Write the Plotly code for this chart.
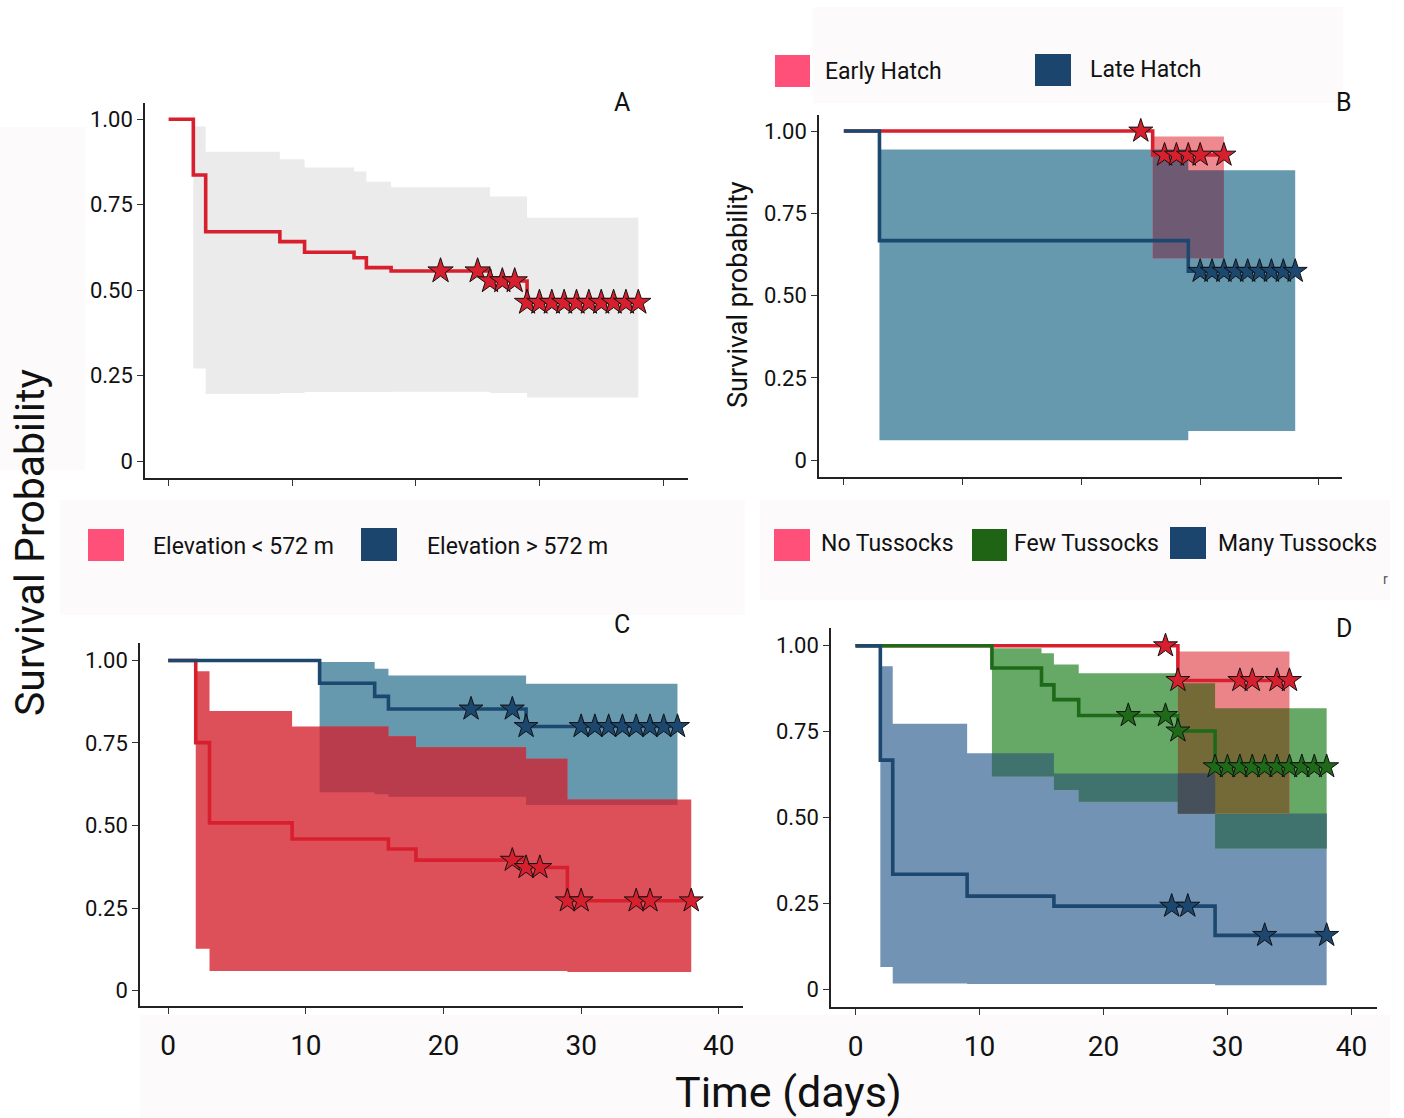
import plotly.graph_objects as go

W, H = 1404, 1118

# ---------------- DATA ----------------
# Panel A (all chicks)
A_time = [0, 2, 3, 9, 11, 15, 16, 18, 26, 29, 38]
A_surv = [1.0, 0.837, 0.671, 0.642, 0.611, 0.595, 0.566, 0.556, 0.527, 0.464, 0.464]
A_cens = [22, 25, 26, 27, 28, 29, 30, 31, 32, 33, 34, 35, 36, 37, 38]
A_band_t = [2, 3, 9, 11, 15, 16, 18, 26, 29, 38]
A_band_lo = [0.271, 0.196, 0.199, 0.202, 0.202, 0.202, 0.203, 0.199, 0.186]
A_band_hi = [0.979, 0.905, 0.883, 0.859, 0.847, 0.817, 0.801, 0.774, 0.712]

# Panel B (hatch timing)
B_early_time = [0, 26, 32]
B_early_surv = [1.0, 0.927, 0.927]
B_early_cens = [25, 27, 28, 29, 30, 32]
B_early_band_t = [26, 32]
B_early_band_lo = [0.613]
B_early_band_hi = [0.983]

B_late_time = [0, 3, 29, 38]
B_late_surv = [1.0, 0.667, 0.574, 0.574]
B_late_cens = [30, 31, 32, 33, 34, 35, 36, 37, 38]
B_late_band_t = [3, 29, 38]
B_late_band_lo = [0.061, 0.089]
B_late_band_hi = [0.944, 0.881]

# Panel C (elevation)
C_low_time = [0, 2, 3, 9, 16, 18, 26, 29, 38]
C_low_surv = [1.0, 0.751, 0.508, 0.459, 0.429, 0.395, 0.373, 0.272, 0.272]
C_low_cens = [25, 26, 27, 29, 30, 34, 35, 38]
C_low_band_t = [2, 3, 9, 16, 18, 26, 29, 38]
C_low_band_lo = [0.127, 0.059, 0.059, 0.059, 0.059, 0.059, 0.056]
C_low_band_hi = [0.967, 0.847, 0.800, 0.770, 0.737, 0.702, 0.579]

C_high_time = [0, 11, 15, 16, 26, 37]
C_high_surv = [1.0, 0.931, 0.891, 0.853, 0.800, 0.800]
C_high_cens = [22, 25, 26, 30, 31, 32, 33, 34, 35, 36, 37]
C_high_band_t = [11, 15, 16, 26, 37]
C_high_band_lo = [0.601, 0.595, 0.587, 0.562]
C_high_band_hi = [0.995, 0.975, 0.954, 0.929]

# Panel D (tussocks)
D_no_time = [0, 26, 35]
D_no_surv = [1.0, 0.899, 0.899]
D_no_cens = [25, 26, 31, 32, 34, 35]
D_no_band_t = [26, 35]
D_no_band_lo = [0.512]
D_no_band_hi = [0.983]

D_few_time = [0, 11, 15, 16, 18, 26, 29, 38]
D_few_surv = [1.0, 0.935, 0.886, 0.843, 0.797, 0.752, 0.648, 0.648]
D_few_cens = [22, 25, 26, 29, 30, 31, 32, 33, 34, 35, 36, 37, 38]
D_few_band_t = [11, 15, 16, 18, 26, 29, 38]
D_few_band_lo = [0.619, 0.619, 0.580, 0.546, 0.512, 0.410]
D_few_band_hi = [0.993, 0.978, 0.945, 0.920, 0.891, 0.818]

D_many_time = [0, 2, 3, 9, 16, 29, 38]
D_many_surv = [1.0, 0.667, 0.335, 0.271, 0.242, 0.157, 0.157]
D_many_cens = [25.5, 26.8, 33, 38]
D_many_band_t = [2, 3, 9, 16, 29, 38]
D_many_band_lo = [0.065, 0.017, 0.015, 0.015, 0.012]
D_many_band_hi = [0.940, 0.773, 0.687, 0.628, 0.512]

y_tickvals = [0, 0.25, 0.5, 0.75, 1.0]
y_ticktext = ["0", "0.25", "0.50", "0.75", "1.00"]
x_tickvals = [0, 10, 20, 30, 40]
x_ticktext = ["0", "10", "20", "30", "40"]

# ---------------- STYLE ----------------
RED_LINE = "#D81F2E"
NAVY_LINE = "#1C4870"
GREEN_LINE = "#1E6A19"
LEG_PINK = "#FF507A"
LEG_NAVY = "#1C456E"
LEG_GREEN = "#1F6414"
FONT = "Roboto"


def fx(x):
    return x / W


def fy(y):
    return 1 - y / H


panels = {
    "A": dict(ax="", box=(145, 688, 103, 478), xr=[-1.91, 42.02], yr=[-0.0497, 1.0477], xlab=False),
    "B": dict(ax="2", box=(819, 1342, 115, 477), xr=[-2.09, 41.94], yr=[-0.0508, 1.0486], xlab=False),
    "C": dict(ax="3", box=(140, 743, 643, 1006), xr=[-2.05, 41.76], yr=[-0.0467, 1.0528], xlab=True),
    "D": dict(ax="4", box=(831, 1377, 628, 1007), xr=[-1.98, 42.06], yr=[-0.0516, 1.0516], xlab=True),
}

fig = go.Figure()


def segs(t, lo, hi):
    return [(t[i], t[i + 1], lo[i], hi[i]) for i in range(len(lo))]


def val_at(sg, a, b):
    for s0, s1, lo, hi in sg:
        if s0 <= a and b <= s1:
            return lo, hi
    return None


def intersect(*bands):
    pts = sorted(set(p for b in bands for s in b for p in (s[0], s[1])))
    runs, cur = [], []
    for a, b in zip(pts[:-1], pts[1:]):
        vals = [val_at(bd, a, b) for bd in bands]
        if any(v is None for v in vals):
            if cur:
                runs.append(cur)
                cur = []
            continue
        lo = max(v[0] for v in vals)
        hi = min(v[1] for v in vals)
        if hi > lo:
            cur.append((a, b, lo, hi))
        elif cur:
            runs.append(cur)
            cur = []
    if cur:
        runs.append(cur)
    return runs


def poly(runs):
    xs, ys = [], []
    for run in runs:
        for a, b, lo, hi in run:
            xs += [a, b]
            ys += [hi, hi]
        for a, b, lo, hi in reversed(run):
            xs += [b, a]
            ys += [lo, lo]
        xs.append(None)
        ys.append(None)
    return xs, ys


def add_fill(runs, color, ax):
    xs, ys = poly(runs)
    fig.add_trace(go.Scatter(x=xs, y=ys, fill="toself", fillcolor=color, mode="none",
                             line=dict(width=0), hoverinfo="skip", showlegend=False,
                             xaxis="x" + ax, yaxis="y" + ax))


def add_line(t, s, color, ax, width=3.6):
    fig.add_trace(go.Scatter(x=t, y=s, mode="lines", line=dict(color=color, width=width, shape="hv"),
                             showlegend=False, xaxis="x" + ax, yaxis="y" + ax))


def surv_at(t, s, c):
    v = s[0]
    for ti, si in zip(t, s):
        if ti <= c:
            v = si
    return v


def add_stars(t, s, cens, color, ax, size=18):
    fig.add_trace(go.Scatter(x=cens, y=[surv_at(t, s, c) for c in cens], mode="markers",
                             marker=dict(symbol="star", size=size, color=color,
                                         line=dict(color="#111111", width=1)),
                             showlegend=False, xaxis="x" + ax, yaxis="y" + ax))


# ---- Panel A ----
bA = segs(A_band_t, A_band_lo, A_band_hi)
add_fill([bA], "#EBEBEB", "")
add_line(A_time, A_surv, RED_LINE, "")
add_stars(A_time, A_surv, A_cens, RED_LINE, "", 19)

# ---- Panel B ----
bBe = segs(B_early_band_t, B_early_band_lo, B_early_band_hi)
bBl = segs(B_late_band_t, B_late_band_lo, B_late_band_hi)
add_fill([bBl], "#6699AE", "2")
add_fill([bBe], "#EE898F", "2")
add_fill(intersect(bBe, bBl), "#6E5A73", "2")
add_line(B_early_time, B_early_surv, RED_LINE, "2")
add_line(B_late_time, B_late_surv, NAVY_LINE, "2")
add_stars(B_early_time, B_early_surv, B_early_cens, RED_LINE, "2")
add_stars(B_late_time, B_late_surv, B_late_cens, NAVY_LINE, "2")

# ---- Panel C ----
bCl = segs(C_low_band_t, C_low_band_lo, C_low_band_hi)
bCh = segs(C_high_band_t, C_high_band_lo, C_high_band_hi)
add_fill([bCh], "#6699AE", "3")
add_fill([bCl], "#DE5059", "3")
add_fill(intersect(bCl, bCh), "#B83C4B", "3")
add_line(C_low_time, C_low_surv, RED_LINE, "3")
add_line(C_high_time, C_high_surv, NAVY_LINE, "3")
add_stars(C_low_time, C_low_surv, C_low_cens, RED_LINE, "3")
add_stars(C_high_time, C_high_surv, C_high_cens, NAVY_LINE, "3")

# ---- Panel D ----
bDn = segs(D_no_band_t, D_no_band_lo, D_no_band_hi)
bDf = segs(D_few_band_t, D_few_band_lo, D_few_band_hi)
bDm = segs(D_many_band_t, D_many_band_lo, D_many_band_hi)
add_fill([bDm], "#7393B5", "4")
add_fill([bDf], "#66A966", "4")
add_fill([bDn], "#EB8489", "4")
add_fill(intersect(bDm, bDf), "#41736E", "4")
add_fill(intersect(bDf, bDn), "#736A37", "4")
add_fill(intersect(bDm, bDn), "#46505A", "4")
add_fill(intersect(bDm, bDf, bDn), "#46505A", "4")
add_line(D_no_time, D_no_surv, RED_LINE, "4")
add_line(D_few_time, D_few_surv, GREEN_LINE, "4")
add_line(D_many_time, D_many_surv, NAVY_LINE, "4")
add_stars(D_no_time, D_no_surv, D_no_cens, RED_LINE, "4")
add_stars(D_few_time, D_few_surv, D_few_cens, GREEN_LINE, "4")
add_stars(D_many_time, D_many_surv, D_many_cens, NAVY_LINE, "4")

# ---------------- AXES ----------------
layout = {}
for name, p in panels.items():
    ax = p["ax"]
    x0, x1, y0, y1 = p["box"]
    layout["xaxis" + ax] = dict(
        domain=[fx(x0), fx(x1)], range=p["xr"], anchor="y" + ax,
        showline=True, linecolor="#222222", linewidth=1.5, showgrid=False, zeroline=False,
        ticks="outside", ticklen=6, tickcolor="#333333", tickwidth=1.2,
        tickvals=x_tickvals, ticktext=x_ticktext, showticklabels=p["xlab"],
        tickfont=dict(family=FONT, size=28, color="#111111"), ticklabelstandoff=8,
    )
    layout["yaxis" + ax] = dict(
        domain=[fy(y1), fy(y0)], range=p["yr"], anchor="x" + ax,
        showline=True, linecolor="#222222", linewidth=1.5, showgrid=False, zeroline=False,
        ticks="outside", ticklen=6, tickcolor="#333333", tickwidth=1.2,
        tickvals=y_tickvals, ticktext=y_ticktext,
        tickfont=dict(family=FONT, size=22, color="#111111"),
    )

shapes = []
annotations = []

# faint background boxes
for (bx0, by0, bx1, by1) in [(813, 7, 1343, 103), (140, 1015, 1390, 1118), (0, 127, 85, 470),
                             (60, 500, 745, 615), (760, 500, 1390, 600)]:
    shapes.append(dict(type="rect", xref="paper", yref="paper", x0=fx(bx0), x1=fx(bx1),
                       y0=fy(by1), y1=fy(by0), fillcolor="#FCFAFB", line=dict(width=0),
                       layer="below"))

# legend squares
legend_items = [
    (775, 55, 810, 87, LEG_PINK, "Early Hatch", 823, 71),
    (1035, 54, 1071, 86, LEG_NAVY, "Late Hatch", 1088, 70),
    (88, 529, 124, 561, LEG_PINK, "Elevation < 572 m", 151, 546),
    (361, 528, 397, 561, LEG_NAVY, "Elevation > 572 m", 425, 546),
    (774, 529, 810, 561, LEG_PINK, "No Tussocks", 819, 543),
    (972, 529, 1007, 561, LEG_GREEN, "Few Tussocks", 1012, 543),
    (1170, 527, 1206, 559, LEG_NAVY, "Many Tussocks", 1216, 543),
]
for (sx0, sy0, sx1, sy1, col, txt, tx, ty) in legend_items:
    shapes.append(dict(type="rect", xref="paper", yref="paper", x0=fx(sx0), x1=fx(sx1),
                       y0=fy(sy1), y1=fy(sy0), fillcolor=col, line=dict(width=0)))
    annotations.append(dict(text=txt, xref="paper", yref="paper", x=fx(tx), y=fy(ty),
                            xanchor="left", yanchor="middle", showarrow=False,
                            font=dict(family=FONT, size=23, color="#111111")))

# panel letters
for (lt, lx, ly) in [("A", 622, 103), ("B", 1344, 103), ("C", 622, 624), ("D", 1344, 628)]:
    annotations.append(dict(text=lt, xref="paper", yref="paper", x=fx(lx), y=fy(ly),
                            xanchor="center", yanchor="middle", showarrow=False,
                            font=dict(family=FONT, size=25, color="#111111")))

annotations.append(dict(text="Survival probability", xref="paper", yref="paper", x=fx(738), y=fy(295),
                        xanchor="center", yanchor="middle", textangle=-90, showarrow=False,
                        font=dict(family=FONT, size=27, color="#111111")))
annotations.append(dict(text="Survival Probability", xref="paper", yref="paper", x=fx(30), y=fy(543),
                        xanchor="center", yanchor="middle", textangle=-90, showarrow=False,
                        font=dict(family=FONT, size=41, color="#111111")))
annotations.append(dict(text="Time (days)", xref="paper", yref="paper", x=fx(788), y=fy(1092),
                        xanchor="center", yanchor="middle", showarrow=False,
                        font=dict(family=FONT, size=43, color="#111111")))
annotations.append(dict(text="r", xref="paper", yref="paper", x=fx(1385), y=fy(579),
                        xanchor="center", yanchor="middle", showarrow=False,
                        font=dict(family=FONT, size=14, color="#555555")))

fig.update_layout(
    width=W, height=H, margin=dict(l=0, r=0, t=0, b=0),
    paper_bgcolor="white", plot_bgcolor="rgba(0,0,0,0)",
    showlegend=False, shapes=shapes, annotations=annotations,
    **layout,
)

fig.write_html("out.html", config={"displayModeBar": False},
               post_script="document.body.style.margin='0';document.body.style.padding='0';"
                           "document.body.style.overflow='hidden';")
